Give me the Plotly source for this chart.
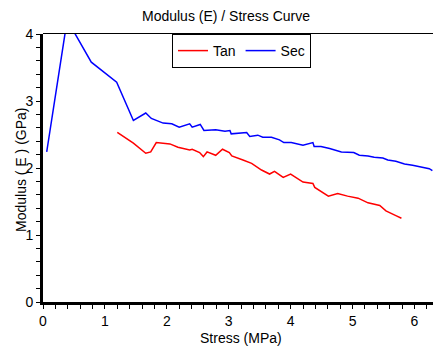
import plotly.graph_objects as go

sec_x = [0.06, 0.39, 0.78, 1.19, 1.46, 1.66, 1.75, 1.94, 2.08, 2.20, 2.37, 2.41, 2.54, 2.60, 2.79, 2.94,
         3.02, 3.04, 3.29, 3.34, 3.47, 3.55, 3.69, 3.82, 3.89, 4.01, 4.20, 4.36, 4.38, 4.49, 4.63,
         4.82, 5.02, 5.11, 5.25, 5.35, 5.49, 5.57, 5.70, 5.84, 5.97, 6.11, 6.24, 6.29]
sec_y = [2.24, 4.21, 3.58, 3.28, 2.71, 2.82, 2.74, 2.67, 2.66, 2.61, 2.66, 2.61, 2.65, 2.56, 2.57, 2.55,
         2.56, 2.51, 2.53, 2.47, 2.49, 2.46, 2.46, 2.42, 2.38, 2.38, 2.34, 2.38, 2.32, 2.32, 2.29,
         2.24, 2.23, 2.19, 2.18, 2.16, 2.15, 2.12, 2.10, 2.06, 2.04, 2.01, 1.99, 1.96]

tan_x = [1.20, 1.46, 1.66, 1.74, 1.83, 1.94, 2.05, 2.18, 2.37, 2.41, 2.53, 2.59, 2.65, 2.79, 2.90,
         3.01, 3.05, 3.23, 3.37, 3.53, 3.66, 3.74, 3.88, 4.00, 4.09, 4.20, 4.36, 4.39, 4.61, 4.76,
         4.92, 5.09, 5.25, 5.44, 5.54, 5.62, 5.70, 5.79]
tan_y = [2.53, 2.37, 2.22, 2.24, 2.38, 2.37, 2.36, 2.31, 2.27, 2.28, 2.23, 2.17, 2.24, 2.19, 2.28,
         2.23, 2.18, 2.12, 2.07, 1.97, 1.91, 1.95, 1.86, 1.91, 1.86, 1.79, 1.77, 1.71, 1.58, 1.62,
         1.58, 1.55, 1.48, 1.44, 1.36, 1.32, 1.29, 1.25]

fig = go.Figure()
fig.add_trace(go.Scatter(x=tan_x, y=tan_y, mode="lines", name="Tan",
                         line=dict(color="#ff0000", width=1.5)))
fig.add_trace(go.Scatter(x=sec_x, y=sec_y, mode="lines", name="Sec",
                         line=dict(color="#0000ff", width=1.5)))

font = dict(family="Liberation Sans, Arial, sans-serif", size=14, color="black")

W, H = 433, 350
L, R, T, B = 43, 0, 34, 48
PW, PH = W - L - R, H - T - B

fig.update_layout(
    width=W, height=H,
    margin=dict(l=L, r=R, t=T, b=B, autoexpand=False),
    paper_bgcolor="white", plot_bgcolor="white",
    font=font,
    title=dict(text="Modulus (E) / Stress Curve", x=226 / W, xanchor="center",
               y=1 - 16 / H, yanchor="middle", automargin=False, font=dict(size=14)),
    showlegend=True,
    legend=dict(orientation="h", x=(241.5 - L) / PW, xanchor="center", y=1, yanchor="top",
                bordercolor="black", borderwidth=1, bgcolor="white",
                font=dict(size=14), tracegroupgap=0),
    xaxis=dict(range=[0, 6.3], dtick=1, tick0=0, showgrid=False, zeroline=False, automargin=False,
               showline=True, linecolor="black", linewidth=3,
               ticks="outside", ticklen=4, tickwidth=1, tickcolor="black",
               minor=dict(dtick=0.2, ticks="outside", ticklen=4, tickcolor="black", showgrid=False),
               tickfont=dict(size=14)),
    yaxis=dict(range=[0, 4], dtick=1, tick0=0, showgrid=False, zeroline=False, automargin=False,
               showline=True, linecolor="black", linewidth=3,
               ticks="outside", ticklen=4, tickwidth=1, tickcolor="black",
               minor=dict(dtick=0.2, ticks="outside", ticklen=4, tickcolor="black", showgrid=False),
               tickfont=dict(size=14)),
    shapes=[dict(type="line", xref="paper", yref="paper", x0=0, x1=1,
                 y0=1 + 0.5 / PH, y1=1 + 0.5 / PH,
                 line=dict(color="black", width=1))],
    annotations=[
        dict(text="Stress (MPa)", xref="paper", yref="paper", x=(241 - L) / PW, y=-(338 - (T + PH)) / PH,
             xanchor="center", yanchor="middle", showarrow=False, font=dict(size=14)),
        dict(text="Modulus ( E ) (GPa)", xref="paper", yref="paper", x=-(L - 21) / PW,
             y=(T + PH - 170) / PH, xanchor="center", yanchor="middle", textangle=-90,
             showarrow=False, font=dict(size=14)),
    ],
)

fig.write_html("out.html", config={"displayModeBar": False},
               post_script="document.body.style.margin='0';document.body.style.padding='0';"
                           "document.body.style.overflow='hidden';")
